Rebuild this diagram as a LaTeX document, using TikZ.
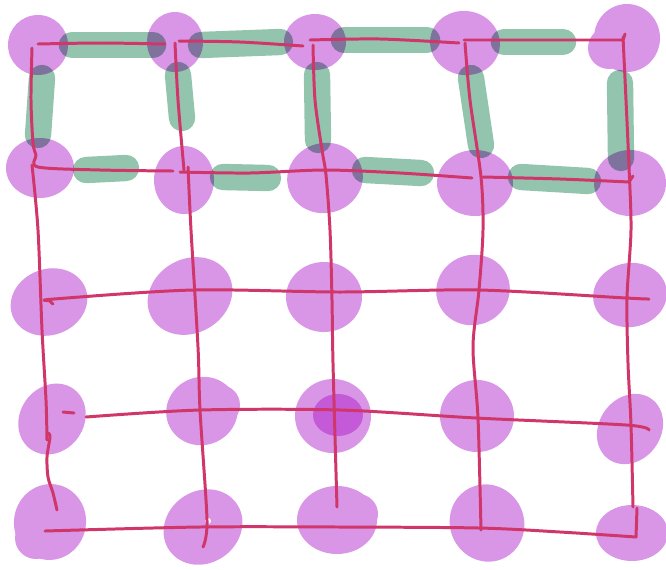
\documentclass[tikz,border=0pt]{standalone}
\usepackage{tikz}

\definecolor{blobpurple}{RGB}{217,150,230}
\definecolor{corepurple}{RGB}{196,90,216}
\definecolor{bondgreen}{RGB}{147,196,174}
\definecolor{wirered}{RGB}{208,54,106}

\begin{document}
\begin{tikzpicture}[x=0.02cm, y=-0.02cm,
    blob/.style={fill=blobpurple},
    core/.style={fill=corepurple},
    bond/.style={draw=bondgreen, line width=15pt, line cap=round, blend mode=multiply},
    wire/.style={draw=wirered, line width=1.7pt, line cap=round, line join=round}
]

\useasboundingbox (0,0) rectangle (666,569);

% Purple blobs, row by row
\foreach \x/\y/\rx/\ry/\r in {
    38/45/30/30/0, 175/42/28/30/0, 315/42/31/28/0, 465/43/35/32/-10, 627/38/33/34/0,
    40/168/34/30/0, 184/180/30/34/0, 325/178/38/35/15, 475/183/38/33/0, 630/183/36/33/0,
    49/302/39/33/20, 190/296/44/37/30, 324/297/38/35/0, 473/290/37/35/20, 630/295/37/32/10,
    52/419/37/32/55, 202/411/36/34/20, 333/416/38/37/0, 477/416/37/36/0, 630/429/37/31/55,
    50/522/36/38/-10, 203/527/41/36/35, 337/520/40/34/0, 487/523/37/39/25, 632/533/36/28/0}
    \fill[blob, rotate around={\r:(\x,\y)}] (\x,\y) ellipse [x radius=\rx, y radius=\ry];

% Extra lobes on the rougher blobs
\fill[blob] (609,48) circle [radius=21];
\fill[blob] (343,307) circle [radius=15];
\fill[blob] (220,405) circle [radius=20];
\fill[blob] (36,538) circle [radius=21];
\fill[blob] (358,514) circle [radius=20];

% Darker centre
\fill[core] (338,415) ellipse [x radius=25, y radius=21];
\fill[white] (208,521) circle [radius=3];

% Green bonds on the top two rows
\foreach \ax/\ay/\bx/\by in {
    72/45/153/45, 201/45/280/42, 344/40/427/40, 504/42/563/42,
    42/78/38/135, 178/75/182/118, 317/75/318/140, 471/78/481/145, 620/83/621/158,
    86/170/126/168, 223/177/268/178, 365/170/421/173, 521/177/588/181}
    \draw[bond] (\ax,\ay) -- (\bx,\by);

% Red wires: top row
\draw[wire] plot[smooth] coordinates {(38,44) (100,43) (165,44)};
\draw[wire] plot[smooth] coordinates {(179,41) (240,42) (303,46)};
\draw[wire] plot[smooth] coordinates {(310,40) (380,39) (459,43)};
\draw[wire] (464,40) -- (540,40) -- (623,40) -- (625,34);

% Red wires: second row
\draw[wire] plot[smooth] coordinates {(32,48) (31,100) (33,143) (36,155) (38,167) (100,170) (173,171)};
\draw[wire] plot[smooth] coordinates {(180,172) (250,173) (325,170) (400,173) (472,178)};
\draw[wire] plot[smooth] coordinates {(483,177) (560,179) (629,182)} -- (633,176);

% Red wires: lower rows
\draw[wire] plot[smooth] coordinates {(53,304) (50,301) (54,299) (193,290) (340,292) (479,290) (626,298) (649,299)};
\draw[wire] (63,412) -- (74,413);
\draw[wire] plot[smooth] coordinates {(86,417) (200,410) (340,410) (476,418) (626,425) (649,430)};
\draw[wire] plot[smooth] coordinates {(45,531) (200,527) (340,527) (479,528) (560,532) (636,537)} -- (637,508);

% Red wires: columns
\draw[wire] plot[smooth] coordinates {(32,165) (38,230) (42,330) (46,400) (47,440)};
\draw[wire] plot[smooth] coordinates {(48,433) (50,437) (47,457) (48,477) (53,493) (57,510)};
\draw[wire] plot[smooth] coordinates {(175,43) (178,100) (184,170)};
\draw[wire] plot[smooth] coordinates {(188,167) (191,230) (198,347) (200,410) (207,520) (203,547)};
\draw[wire] plot[smooth] coordinates {(313,45) (315,100) (322,150) (326,175) (330,230) (332,300) (333,363) (337,507)};
\draw[wire] plot[smooth] coordinates {(465,43) (470,100) (481,177) (483,230) (479,290) (473,347) (478,418) (481,530)};
\draw[wire] plot[smooth] coordinates {(623,37) (626,100) (629,167) (631,230) (627,298) (628,363) (631,425) (633,507)};

\end{tikzpicture}
\end{document}
